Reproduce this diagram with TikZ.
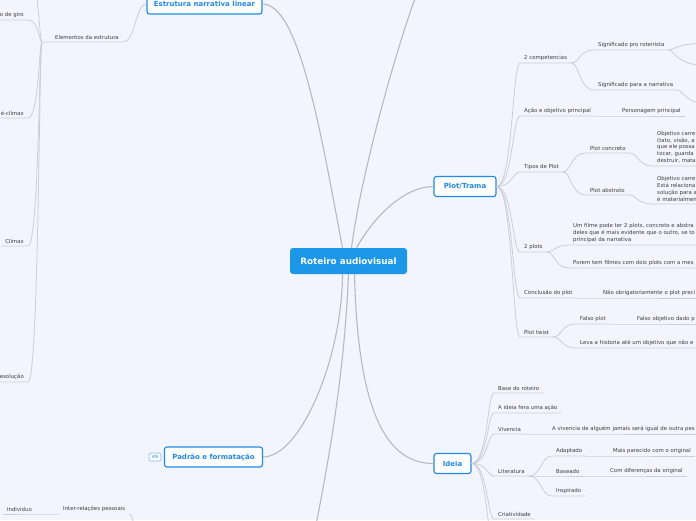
\documentclass[tikz,border=0pt]{standalone}
\usepackage{fontspec}
\setmainfont{DejaVu Sans}
\usetikzlibrary{calc}
\definecolor{bgcol}{RGB}{242,245,253}
\definecolor{rootblue}{RGB}{28,151,231}
\definecolor{topicblue}{RGB}{33,137,230}
\definecolor{branchgray}{RGB}{184,185,192}
\definecolor{twiggray}{RGB}{204,206,214}
\definecolor{leafcol}{RGB}{62,62,66}
\definecolor{badgecol}{RGB}{140,185,240}
\tikzset{
  mainln/.style={line width=1.1pt, draw=branchgray},
  twigln/.style={line width=0.8pt, draw=twiggray},
  twig/.style={to path={.. controls ($(\tikztostart)+(#1,0)$) and ($(\tikztostart |- \tikztotarget)+(#1,0)$) .. (\tikztotarget)}},
  rootbox/.style={fill=rootblue, rounded corners=3pt, text=white, inner sep=0pt,
    font=\fontsize{8.8}{10}\selectfont\bfseries},
  topic/.style={draw=topicblue, line width=1.1pt, fill=white, rounded corners=2.5pt, text=topicblue,
    inner sep=0pt, minimum height=20pt, font=\fontsize{7}{8}\selectfont\bfseries},
  badge/.style={draw=badgecol, line width=0.7pt, fill=white, rounded corners=1.5pt, text=topicblue!70,
    inner sep=0pt, minimum width=12pt, minimum height=8pt, font=\fontsize{4.5}{5}\selectfont\bfseries},
  leaf/.style={anchor=south west, text=leafcol, inner xsep=4pt, inner ysep=2.6pt,
    font=\fontsize{5.4}{6.8}\selectfont},
  leafl/.style={leaf, anchor=south east},
  leafm/.style={leaf, align=left, text width=50pt},
  edgeleaf/.style={leaf, align=left, text width=#1},
}

\begin{document}
\begin{tikzpicture}[x=1pt,y=-1pt]
  \fill[bgcol] (0,0) rectangle (696,520);
  \useasboundingbox (0,0) rectangle (696,520);
  \clip (0,0) rectangle (696,520);

  % hub and main topics
  \node[rootbox, minimum width=117pt, minimum height=26pt] (root) at (348.5,261) {Roteiro audiovisual};
  \node[topic, minimum width=115pt] (estrutura) at (204.5,4) {Estrutura narrativa linear};
  \node[topic, minimum width=62pt] (plot) at (465,186.5) {Plot/Trama};
  \node[topic, minimum width=98pt] (padrao) at (213.5,457) {Padrão e formatação};
  \node[topic, minimum width=37pt] (ideia) at (452.5,463.5) {Ideia};
  \node[badge] (contagem) at (155,457) {49};
  \coordinate (offnorth) at (420,-15);
  \coordinate (offsouth) at (314,535);

  \draw[mainln] ([xshift=-6pt]root.north) .. controls (322,140) and (300,4) .. (estrutura.east);
  \draw[mainln] ([xshift=3pt]root.north) .. controls (360,180) and (395,50) .. (offnorth);
  \draw[mainln] ([xshift=8pt]root.north) .. controls (375,215) and (405,186.5) .. (plot.west);
  \draw[mainln] ([xshift=-6pt]root.south) .. controls (342,360) and (300,457) .. (padrao.east);
  \draw[mainln] (root.south) .. controls (345,360) and (333,440) .. (offsouth);
  \draw[mainln] ([xshift=6pt]root.south) .. controls (358,420) and (390,463.5) .. (ideia.west);

  % estrutura narrativa linear
  \node[leaf] (elementos) at (51,42) {Elementos da estrutura};
  \coordinate (elemstem) at (42,42);
  \node[leafl] (giro) at (28,20) {o de giro};
  \node[leafl] (preclimax) at (28,118) {é-clímax};
  \node[leafl] (climax) at (28,246) {Clímax};
  \node[leafl] (resolucao) at (28,382) {esolução};
  \coordinate (offnw) at (26,-30);
  \draw[twigln] (estrutura.west) to[twig=-11] (elementos.south east) -- (elementos.south west) -- (elemstem);
  \draw[twigln] (elemstem) to[twig=-3] (offnw);
  \foreach \kid in {giro,preclimax,climax,resolucao}
    \draw[twigln] (elemstem) to[twig=-3] (\kid.south east) -- (\kid.south west);

  % plot/trama
  \node[leaf] (competencias) at (520,63) {2 competencias};
  \node[leaf] (acao) at (520,116) {Ação e objetivo principal};
  \node[leaf] (protagonista) at (618,116) {Personagem principal};
  \node[leaf] (tipos) at (520,172) {Tipos de Plot};
  \node[leaf] (doisplots) at (520,252) {2 plots};
  \node[leaf] (conclusao) at (520,298) {Conclusão do plot};
  \node[edgeleaf=110pt] (naoobrig) at (599,298) {Não obrigatoriamente o plot preci};
  \node[leaf] (twist) at (520,337) {Plot twist};
  \foreach \kid in {competencias,acao,tipos,doisplots,conclusao,twist}
    \draw[twigln] (plot.east) to[twig=16] (\kid.south west) -- (\kid.south east);
  \draw[twigln] (acao.south east) -- (protagonista.south west) -- (protagonista.south east);
  \draw[twigln] (conclusao.south east) -- (naoobrig.south west) -- (naoobrig.south east);

  \node[leaf] (sigroteirista) at (594,50) {Significado pro roteirista};
  \node[leaf] (signarrativa) at (594,90) {Significado para a narrativa};
  \coordinate (offe1) at (712,43);
  \coordinate (offe2) at (712,66);
  \coordinate (offe3) at (712,104);
  \foreach \kid in {sigroteirista,signarrativa}
    \draw[twigln] (competencias.south east) to[twig=8] (\kid.south west) -- (\kid.south east);
  \draw[twigln] (sigroteirista.south east) to[twig=6] (offe1);
  \draw[twigln] (sigroteirista.south east) to[twig=6] (offe2);
  \draw[twigln] (signarrativa.south east) to[twig=6] (offe3);

  \node[leaf] (concreto) at (586,153) {Plot concreto};
  \node[leaf] (abstrato) at (586,195) {Plot abstrato};
  \node[leafm] (concretotxt) at (653,166) {Objetivo carre\\(tato, visão, a\\que ele possa\\tocar, guarda\\destruir, mata};
  \node[leafm] (abstratotxt) at (653,204) {Objetivo carre\\Está relaciona\\solução para a\\é materialmen};
  \foreach \kid in {concreto,abstrato}
    \draw[twigln] (tipos.south east) to[twig=8] (\kid.south west) -- (\kid.south east);
  \draw[twigln] (concreto.south east) to[twig=8] (concretotxt.south west) -- (concretotxt.south east);
  \draw[twigln] (abstrato.south east) to[twig=8] (abstratotxt.south west) -- (abstratotxt.south east);

  \node[edgeleaf=130pt] (doisa) at (569,245) {Um filme pode ter 2 plots, concreto e abstra\\deles que é mais evidente que o outro, se to\\principal da narrativa};
  \node[edgeleaf=130pt] (doisb) at (569,268) {Porem tem filmes com dois plots com a mes};
  \foreach \kid in {doisa,doisb}
    \draw[twigln] (doisplots.south east) to[twig=8] (\kid.south west) -- (\kid.south east);

  \node[leaf] (falsoplot) at (576,324) {Falso plot};
  \node[edgeleaf=60pt] (falsoobj) at (633,324) {Falso objetivo dado p};
  \node[edgeleaf=120pt] (leva) at (576,348) {Leva a historia até um objetivo que não e};
  \foreach \kid in {falsoplot,leva}
    \draw[twigln] (twist.south east) to[twig=8] (\kid.south west) -- (\kid.south east);
  \draw[twigln] (falsoplot.south east) -- (falsoobj.south west) -- (falsoobj.south east);

  % ideia
  \node[leaf] (base) at (494,393) {Base do roteiro};
  \node[leaf] (fera) at (494,413) {A ideia fera uma ação};
  \node[leaf] (vivencia) at (494,434) {Vivencia};
  \node[edgeleaf=150pt] (vivtxt) at (548,434) {A vivencia de alguém jamais será igual de outra pes};
  \node[leaf] (literatura) at (494,476) {Literatura};
  \node[leaf] (criatividade) at (494,519) {Criatividade};
  \coordinate (offideia) at (494,548);
  \foreach \kid in {base,fera,vivencia,literatura,criatividade}
    \draw[twigln] (ideia.east) to[twig=16] (\kid.south west) -- (\kid.south east);
  \draw[twigln] (ideia.east) to[twig=16] (offideia);
  \draw[twigln] (vivencia.south east) -- (vivtxt.south west) -- (vivtxt.south east);

  \node[leaf] (adaptado) at (552,456) {Adaptado};
  \node[leaf] (maisparecido) at (609,456) {Mais parecido com o original};
  \node[leaf] (baseado) at (552,476) {Baseado};
  \node[leaf] (comdif) at (606,476) {Com diferenças da original};
  \node[leaf] (inspirado) at (552,496) {Inspirado};
  \foreach \kid in {adaptado,baseado,inspirado}
    \draw[twigln] (literatura.south east) to[twig=12] (\kid.south west) -- (\kid.south east);
  \draw[twigln] (adaptado.south east) -- (maisparecido.south west) -- (maisparecido.south east);
  \draw[twigln] (baseado.south east) -- (comdif.south west) -- (comdif.south east);

  % bottom left
  \node[leaf] (interrel) at (59,514) {Inter-relações pessoais};
  \node[leafl] (individuo) at (36,514) {Individuo};
  \coordinate (offsw) at (150,560);
  \draw[twigln] (interrel.south east) to[twig=6] (offsw);
  \draw[twigln] (interrel.south west) -- (individuo.south east) -- (individuo.south west);
\end{tikzpicture}
\end{document}
